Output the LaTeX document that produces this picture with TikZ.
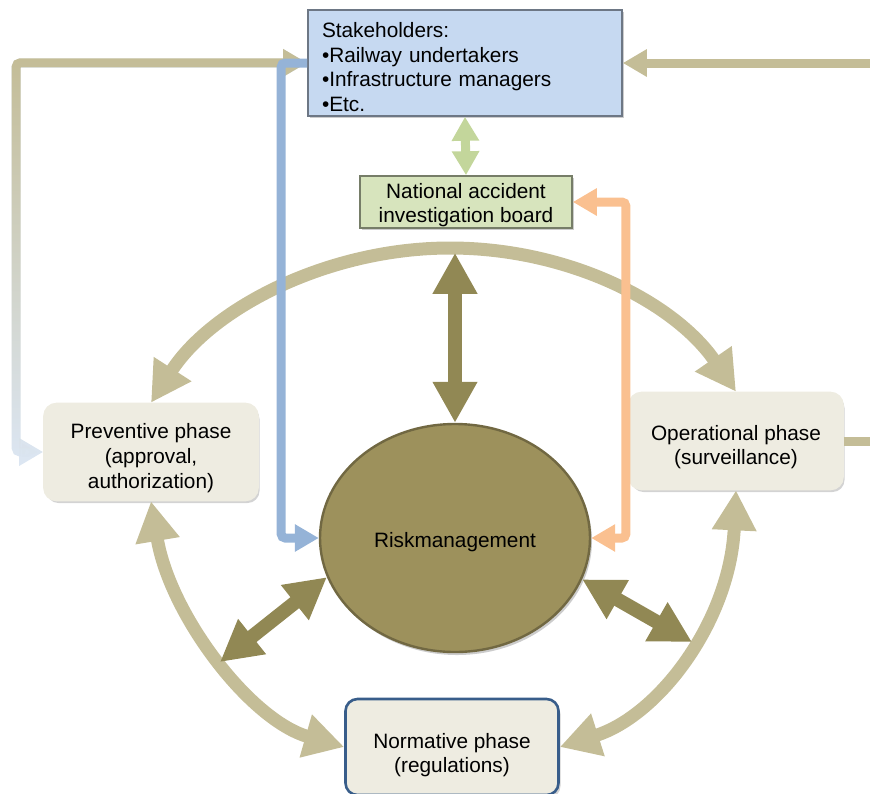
\documentclass[tikz,border=0pt]{standalone}
\usepackage{fontspec}
\setmainfont{Liberation Sans}
\usetikzlibrary{arrows.meta,shapes.geometric,shadows,fadings}
\definecolor{tanline}{RGB}{196,189,151}
\definecolor{olivearr}{RGB}{145,136,84}
\definecolor{riskfill}{RGB}{157,145,92}
\definecolor{phasefill}{RGB}{238,236,225}
\definecolor{stakeblue}{RGB}{198,217,241}
\definecolor{boardgreen}{RGB}{215,228,189}
\definecolor{linkgreen}{RGB}{195,214,155}
\definecolor{linkblue}{RGB}{149,179,215}
\definecolor{linkorange}{RGB}{250,192,144}
\definecolor{paleblue}{RGB}{220,230,242}
\definecolor{normedge}{RGB}{56,93,138}
\tikzfading[name=fadetan,top color=transparent!0,bottom color=transparent!100]
\newcommand{\txtdrop}[1]{\rule{0pt}{#1}}

\begin{document}
\begin{tikzpicture}[x=0.5pt,y=-0.5pt,font=\fontsize{10.4}{12.3}\selectfont,
    link/.style={line width=4.5pt,rounded corners=2pt,>={Triangle[length=12pt,width=13pt]}},
    arc/.style={tanline,line width=6.5pt,<->,>={Triangle[length=20pt,width=21pt]}},
    core/.style={olivearr,line width=7pt,<->,>={Triangle[length=20.5pt,width=21pt]}},
    phase/.style={fill=phasefill,rounded corners=6pt,line width=1.3pt,align=center,
      minimum width=106.5pt,minimum height=48pt,
      drop shadow={shadow xshift=1pt,shadow yshift=-1.5pt,opacity=.35}}]
  \clip (0,0) rectangle (870,793);

  % boxes
  \node[fill=stakeblue,draw=stakeblue!55!black,line width=.8pt,minimum width=157pt,minimum height=53pt,
    text width=143pt,align=left,inner sep=0pt,
    drop shadow={shadow xshift=1pt,shadow yshift=-1pt,opacity=.4}] (stake) at (465,63)
    {\txtdrop{11.6pt}Stakeholders:\\\textbullet Railway undertakers\\\textbullet Infrastructure managers\\\textbullet Etc.};
  \node[fill=boardgreen,draw=boardgreen!55!black,line width=.8pt,minimum width=106pt,minimum height=26pt,
    align=center,inner sep=0pt,
    drop shadow={shadow xshift=1pt,shadow yshift=-1pt,opacity=.4}] (naib) at (466,202)
    {\txtdrop{10.6pt}National accident\\investigation board};
  \node[ellipse,fill=riskfill,draw=riskfill!72!black,line width=1.2pt,minimum width=135pt,minimum height=114pt,
    drop shadow={shadow xshift=1pt,shadow yshift=-1.5pt,opacity=.4}] (risk) at (455,538)
    {\txtdrop{11.6pt}Riskmanagement};
  \foreach \n/\p/\e/\d/\t in {prev/{151,452}/phasefill/13.6pt/{Preventive phase\\(approval,\\authorization)},
      op/{736,441}/phasefill/13.6pt/{Operational phase\\(surveillance)},
      norm/{452,747}/normedge/15.6pt/{Normative phase\\(regulations)}}
    \node[phase,draw=\e] (\n) at (\p) {\txtdrop{\d}\t};

  % phase cycle
  \draw[arc] (prev.north) .. controls (212,308) and (328,248) .. (450,248)
    .. controls (568,248) and (674,302) .. (op.north);
  \draw[arc] (prev.south) .. controls (170,615) and (250,720) .. (norm.west);
  \draw[arc] (op.south) .. controls (730,620) and (660,715) .. (norm.east);

  % links to risk management
  \coordinate (lcore) at (220,662);
  \coordinate (rcore) at (692,642);
  \draw[core,shorten >=12pt] (risk.north) -- (risk.north |- naib.south);
  \draw[core] (risk.197) -- (lcore);
  \draw[core] (risk.342) -- (rcore);

  % stakeholder links
  \coordinate (redge) at (870,63);
  \coordinate (oedge) at (870,441);
  \draw[link,<->,paleblue] (prev.west) -- ++(-27,0) |- (stake.west);
  \draw[link,<->,tanline,path fading=fadetan] (prev.west) -- ++(-27,0) |- (stake.west);
  \draw[link,->,tanline] (redge) -- (stake.east);
  \draw[link,tanline] (op.east) -- (oedge);
  \draw[link,->,linkblue] (stake.west) -- ++(-26,0) |- (risk.west);
  \draw[link,<->,linkorange] (naib.east) -- ++(53,0) |- (risk.east);
  \draw[link,<->,linkgreen] (stake.south) -- (naib.north);
\end{tikzpicture}
\end{document}
